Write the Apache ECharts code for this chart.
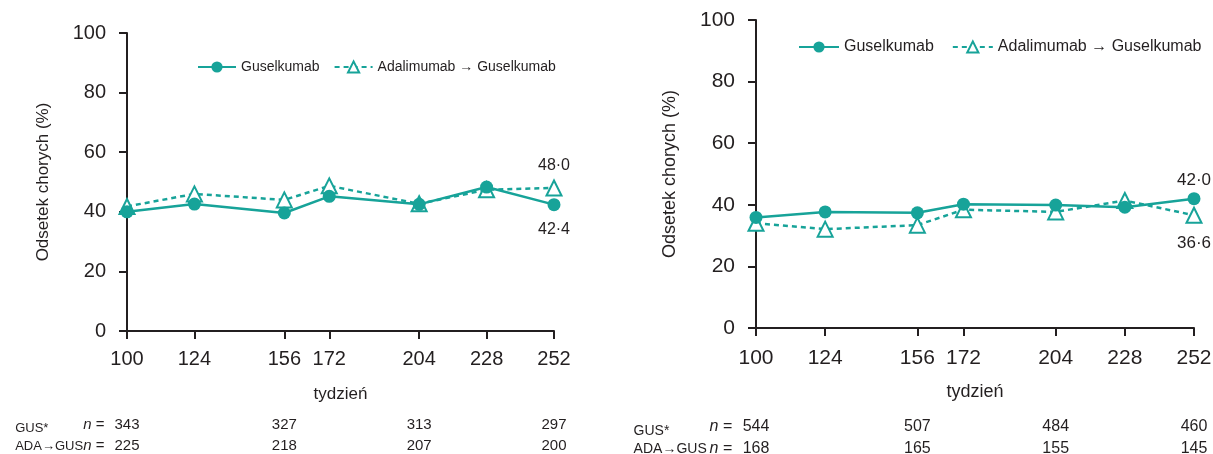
<!DOCTYPE html>
<html>
<head>
<meta charset="utf-8">
<script src="https://cdn.jsdelivr.net/npm/echarts@6/dist/echarts.min.js"></script>
<style>
html,body{margin:0;padding:0;background:#fff;}
#chart{width:1213px;height:454px;}
</style>
</head>
<body>
<div id="chart"></div>
<script>
// ---- data ----
const weeks = [100, 124, 156, 172, 204, 228, 252];
const leftGus = [40.0, 42.6, 39.6, 45.2, 42.5, 48.3, 42.4];
const leftAda = [41.8, 46.0, 44.0, 48.7, 42.7, 47.4, 48.0];
const rightGus = [35.9, 37.7, 37.4, 40.2, 39.9, 39.2, 42.0];
const rightAda = [34.0, 32.1, 33.4, 38.4, 37.7, 41.4, 36.6];
const nWeeks = [100, 156, 204, 252];
const leftNGus = [343, 327, 313, 297];
const leftNAda = [225, 218, 207, 200];
const rightNGus = [544, 507, 484, 460];
const rightNAda = [168, 165, 155, 145];
const seriesNames = ['Guselkumab', 'Adalimumab \u2192 Guselkumab'];
const rowNames = ['GUS*', 'ADA\u2192GUS'];
const yName = 'Odsetek chorych (%)';
const xName = 'tydzie\u0144';

// ---- style ----
const TEAL = '#17a399';
const INK = '#231f20';
const FONT = "'Liberation Sans', Arial, sans-serif";

function fmt(v) { return v.toFixed(1).replace('.', '\u00b7'); }

const measureCtx = document.createElement('canvas').getContext('2d');
function textWidth(str, fs) {
  measureCtx.font = fs + 'px ' + FONT;
  return measureCtx.measureText(str).width;
}

function buildData(vals, labelPos, labelSize, dist) {
  return vals.map((v, i) => {
    const item = { value: [weeks[i], v] };
    if (i === vals.length - 1) {
      item.label = {
        show: true, position: labelPos, distance: dist,
        formatter: () => fmt(v), color: INK, fontSize: labelSize, fontFamily: FONT
      };
    }
    return item;
  });
}

function mainX(gridIndex, fs, margin, nameGap) {
  return {
    type: 'value', gridIndex, min: 100, max: 252,
    axisLine: { show: true, lineStyle: { color: INK, width: 2 } },
    axisTick: { show: true, length: 8, lineStyle: { color: INK, width: 2 }, customValues: weeks },
    axisLabel: { customValues: weeks, color: INK, fontSize: fs, fontFamily: FONT, margin },
    splitLine: { show: false },
    name: xName, nameLocation: 'middle', nameGap,
    nameTextStyle: { color: INK, fontSize: fs - 3, fontFamily: FONT }
  };
}

function rowX(gridIndex, offset, rowName, counts, fs, gWidth, gap, gTop) {
  const gfs = fs - 2;
  const padRight = Math.max(0, gWidth - textWidth(rowName, gfs));
  return {
    type: 'value', gridIndex, min: 100, max: 252, offset, position: 'bottom',
    axisLine: { show: false }, axisTick: { show: false }, splitLine: { show: false },
    axisLabel: {
      customValues: nWeeks, margin: 0, verticalAlign: 'middle',
      color: INK, fontSize: fs, fontFamily: FONT,
      formatter: (v) => String(counts[nWeeks.indexOf(v)])
    },
    name: '{g|' + rowName + '}{n|n} = ', nameLocation: 'start', nameGap: gap,
    nameTextStyle: {
      color: INK, fontSize: fs, fontFamily: FONT, verticalAlign: 'middle',
      rich: {
        g: { fontSize: gfs, fontFamily: FONT, color: INK, padding: [gTop, padRight, 0, 0] },
        n: { fontStyle: 'italic', fontSize: fs, fontFamily: FONT, color: INK }
      }
    }
  };
}

function mainY(gridIndex, fs, gap) {
  return {
    type: 'value', gridIndex, min: 0, max: 100, interval: 20,
    axisLine: { show: true, lineStyle: { color: INK, width: 2 } },
    axisTick: { show: true, length: 8, lineStyle: { color: INK, width: 2 } },
    axisLabel: { color: INK, fontSize: fs, fontFamily: FONT, margin: 21 },
    splitLine: { show: false },
    name: yName, nameLocation: 'middle', nameGap: gap, nameRotate: 90,
    nameTextStyle: { color: INK, fontSize: fs - 3, fontFamily: FONT }
  };
}

function gusSeries(xi, yi, vals, pos, ls, dist) {
  return {
    name: seriesNames[0], type: 'line', xAxisIndex: xi, yAxisIndex: yi, z: 3,
    data: buildData(vals, pos, ls, dist),
    symbol: 'circle', symbolSize: 13,
    lineStyle: { color: TEAL, width: 2.5 },
    itemStyle: { color: TEAL },
    emphasis: { disabled: true }
  };
}
function adaSeries(xi, yi, vals, pos, ls, dist) {
  return {
    name: seriesNames[1], type: 'line', xAxisIndex: xi, yAxisIndex: yi, z: 2,
    data: buildData(vals, pos, ls, dist),
    symbol: 'emptyTriangle', symbolSize: 15,
    lineStyle: { color: TEAL, width: 2.5, type: [5, 4] },
    itemStyle: { color: TEAL, borderColor: TEAL, borderWidth: 2 },
    emphasis: { disabled: true }
  };
}

const chart = echarts.init(document.getElementById('chart'), null, { renderer: 'canvas' });
chart.setOption({
  animation: false,
  backgroundColor: '#fff',
  grid: [
    { left: 127, top: 33, width: 427, height: 298, outerBoundsMode: 'none', containLabel: false },
    { left: 756, top: 20, width: 438, height: 308, outerBoundsMode: 'none', containLabel: false }
  ],
  legend: [
    { data: seriesNames, left: 192, top: 55, width: 400, itemWidth: 38, itemHeight: 14, itemGap: 14,
      textStyle: { color: INK, fontSize: 14, fontFamily: FONT } },
    { data: seriesNames, left: 793, top: 34, width: 420, itemWidth: 40, itemHeight: 14, itemGap: 18,
      textStyle: { color: INK, fontSize: 16, fontFamily: FONT } }
  ],
  xAxis: [
    mainX(0, 20, 18, 55),
    rowX(0, 94, rowNames[0], leftNGus, 15, 68, 12, 7),
    rowX(0, 115, rowNames[1], leftNAda, 15, 68, 12, 0),
    mainX(1, 21, 20, 55),
    rowX(1, 99, rowNames[0], rightNGus, 16, 76, 14, 9),
    rowX(1, 121, rowNames[1], rightNAda, 16, 76, 14, 0)
  ],
  yAxis: [ mainY(0, 20, 75), mainY(1, 21, 77) ],
  series: [
    adaSeries(0, 0, leftAda, 'top', 16, 6),
    gusSeries(0, 0, leftGus, 'bottom', 16, 10),
    adaSeries(3, 1, rightAda, 'bottom', 17, 11),
    gusSeries(3, 1, rightGus, 'top', 17, 3)
  ]
});
</script>
</body>
</html>
